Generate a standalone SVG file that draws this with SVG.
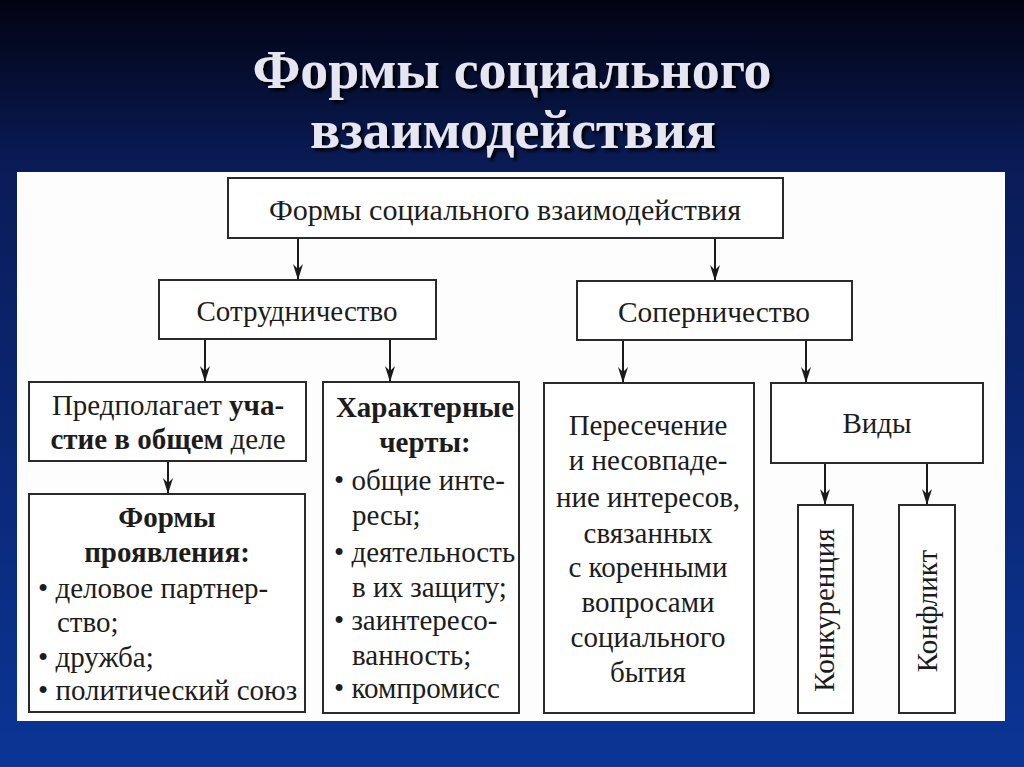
<svg xmlns="http://www.w3.org/2000/svg" width="1024" height="767" viewBox="0 0 1024 767">
<defs>
<linearGradient id="bg" x1="0" y1="0" x2="0" y2="1">
<stop offset="0" stop-color="#020312"/>
<stop offset="0.22" stop-color="#0a1c58"/>
<stop offset="1" stop-color="#0b3596"/>
</linearGradient>
<filter id="sh" x="-5%" y="-20%" width="110%" height="140%">
<feDropShadow dx="3" dy="3" stdDeviation="1.5" flood-color="#000" flood-opacity="0.9"/>
</filter>
<marker id="ah2" viewBox="0 0 16 10" refX="16" refY="5" markerWidth="16" markerHeight="10" orient="auto" markerUnits="userSpaceOnUse">
<path d="M0,0 L16,5 L0,10 L5,5 Z" fill="#1a1a1a"/>
</marker>
</defs>
<style>
.box{fill:#fff;stroke:#2a2a2a;stroke-width:2}
.t{font-family:"Liberation Serif","Times New Roman",serif;font-size:29px;fill:#1c1c1c}
.c{text-anchor:middle}
.b{font-weight:bold}
.title{font-family:"Liberation Serif","Times New Roman",serif;font-size:54px;font-weight:bold;fill:#e6e6f2;text-anchor:middle}
.con{stroke:#1a1a1a;stroke-width:2;fill:none;marker-end:url(#ah2)}
</style>
<rect width="1024" height="767" fill="url(#bg)"/>
<g id="title" filter="url(#sh)">
<text class="title" x="512" y="88" textLength="519" lengthAdjust="spacingAndGlyphs">Формы социального</text>
<text class="title" x="513" y="148" textLength="406" lengthAdjust="spacingAndGlyphs">взаимодействия</text>
</g>
<rect x="17" y="172" width="988" height="549" fill="#fdfdfd"/>
<g id="connectors">
<line class="con" x1="298" y1="239" x2="298" y2="280"/>
<line class="con" x1="715" y1="239" x2="715" y2="281"/>
<line class="con" x1="205" y1="340" x2="205" y2="382"/>
<line class="con" x1="390" y1="340" x2="390" y2="382"/>
<line class="con" x1="623" y1="341" x2="623" y2="383"/>
<line class="con" x1="806" y1="341" x2="806" y2="383"/>
<line class="con" x1="168" y1="462" x2="168" y2="494"/>
<line class="con" x1="825" y1="464" x2="825" y2="505"/>
<line class="con" x1="927" y1="464" x2="927" y2="505"/>
</g>
<g id="n-root">
<rect class="box" x="228" y="178" width="555" height="60"/>
<text class="t c" x="505" y="220" textLength="472" lengthAdjust="spacingAndGlyphs">Формы социального взаимодействия</text>
</g>
<g id="n-coop">
<rect class="box" x="159" y="280" width="277" height="59"/>
<text class="t c" x="297" y="321" textLength="201" lengthAdjust="spacingAndGlyphs">Сотрудничество</text>
</g>
<g id="n-rival">
<rect class="box" x="577" y="281" width="275" height="59"/>
<text class="t c" x="714" y="322" textLength="192" lengthAdjust="spacingAndGlyphs">Соперничество</text>
</g>
<g id="n-part">
<rect class="box" x="29" y="382" width="277" height="79"/>
<text class="t c" x="168" y="415">Предполагает <tspan class="b">уча-</tspan></text>
<text class="t c" x="168" y="449"><tspan class="b">стие в общем</tspan> деле</text>
</g>
<g id="n-forms">
<rect class="box" x="29" y="494" width="276" height="218"/>
<text class="t c b" x="167" y="527">Формы</text>
<text class="t c b" x="167" y="562">проявления:</text>
<text class="t" x="38" y="598">• деловое партнер-</text>
<text class="t" x="57" y="632">ство;</text>
<text class="t" x="38" y="667">• дружба;</text>
<text class="t" x="38" y="700">• политический союз</text>
</g>
<g id="n-traits">
<rect class="box" x="323" y="382" width="196" height="331"/>
<text class="t c b" x="425" y="417">Характерные</text>
<text class="t c b" x="425" y="452">черты:</text>
<text class="t" x="334" y="490">• общие инте-</text>
<text class="t" x="352" y="525">ресы;</text>
<text class="t" x="334" y="562">• деятельность</text>
<text class="t" x="352" y="597">в их защиту;</text>
<text class="t" x="334" y="630">• заинтересо-</text>
<text class="t" x="352" y="665">ванность;</text>
<text class="t" x="334" y="698">• компромисс</text>
</g>
<g id="n-cross">
<rect class="box" x="544" y="383" width="210" height="330"/>
<text class="t c" x="648" y="435">Пересечение</text>
<text class="t c" x="648" y="470">и несовпаде-</text>
<text class="t c" x="648" y="507">ние интересов,</text>
<text class="t c" x="648" y="543">связанных</text>
<text class="t c" x="648" y="577">с коренными</text>
<text class="t c" x="648" y="612">вопросами</text>
<text class="t c" x="648" y="647">социального</text>
<text class="t c" x="648" y="682">бытия</text>
</g>
<g id="n-kinds">
<rect class="box" x="771" y="383" width="212" height="80"/>
<text class="t c" x="877" y="433">Виды</text>
</g>
<g id="n-compet">
<rect class="box" x="798" y="505" width="55" height="208"/>
<text class="t c" x="825" y="619" transform="rotate(-90 825 610)">Конкуренция</text>
</g>
<g id="n-conflict">
<rect class="box" x="899" y="505" width="56" height="208"/>
<text class="t c" x="928" y="620" transform="rotate(-90 928 611)">Конфликт</text>
</g>
</svg>
